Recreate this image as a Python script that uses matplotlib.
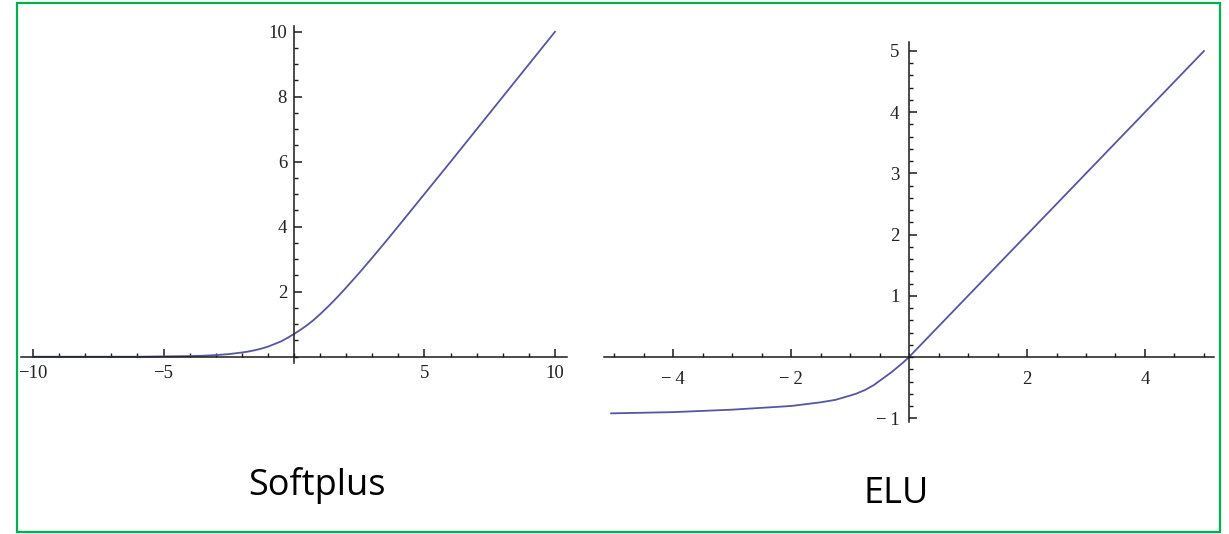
import matplotlib
matplotlib.use("Agg")
import matplotlib.pyplot as plt
from matplotlib.patches import Rectangle
from matplotlib.ticker import MultipleLocator

# values
softplus_x = [-10, -8, -6, -5, -4, -3.5, -3, -2.5, -2, -1.75, -1.5, -1.25, -1, -0.75, -0.5, -0.25, 0,
              0.25, 0.5, 0.75, 1, 1.25, 1.5, 1.75, 2, 2.5, 3, 3.5, 4, 5, 6, 8, 10]
softplus_y = [0.0, 0.0, 0.0, 0.01, 0.02, 0.03, 0.05, 0.08, 0.13, 0.16, 0.2, 0.25, 0.31, 0.39, 0.47, 0.58, 0.7,
              0.83, 0.97, 1.13, 1.31, 1.5, 1.7, 1.91, 2.13, 2.58, 3.05, 3.53, 4.02, 5.01, 6.0, 8.0, 10.0]

elu_x = [-5.05, -4.5, -4, -3.5, -3, -2.5, -2, -1.75, -1.5, -1.25, -1, -0.9, -0.75, -0.6, -0.5, -0.4,
         -0.3, -0.2, -0.1, 0, 5]
elu_y = [-0.92, -0.91, -0.9, -0.88, -0.86, -0.83, -0.8, -0.77, -0.74, -0.7, -0.63, -0.6, -0.54, -0.46,
         -0.39, -0.32, -0.25, -0.17, -0.09, 0, 5]

sp_xticks = [-10, -5, 5, 10]
sp_xlabels = ["\u221210", "\u22125", "5", "10"]
sp_yticks = [2, 4, 6, 8, 10]
sp_ylabels = ["2", "4", "6", "8", "10"]

elu_xticks = [-4, -2, 2, 4]
elu_xlabels = ["\u2212\u20094", "\u2212\u20092", "2", "4"]
elu_yticks = [-1, 1, 2, 3, 4, 5]
elu_ylabels = ["\u2212\u20091", "1", "2", "3", "4", "5"]

titles = ["Softplus", "ELU"]

line_col = "#5656a0"
tick_font = ["Liberation Serif", "DejaVu Serif"]

fig = plt.figure(figsize=(12.29, 5.34), dpi=100)
fig.patch.set_facecolor("white")


def math_axes(ax, xticks, xlabels, yticks, ylabels, xminor, yminor, xpad, ypad):
    # Mathematica-like axes crossing at the origin
    for s in ["top", "right"]:
        ax.spines[s].set_visible(False)
    for s in ["left", "bottom"]:
        ax.spines[s].set_position("zero")
        ax.spines[s].set_linewidth(1.1)
        ax.spines[s].set_color("#1a1a1a")
    ax.set_xticks(xticks)
    ax.set_xticklabels(xlabels, family=tick_font, fontsize=13.5, color="#222222")
    ax.set_yticks(yticks)
    ax.set_yticklabels(ylabels, family=tick_font, fontsize=13.5, color="#222222")
    ax.xaxis.set_minor_locator(MultipleLocator(xminor))
    ax.yaxis.set_minor_locator(MultipleLocator(yminor))
    ax.tick_params(which="major", direction="in", length=5.5, width=1.1, color="#1a1a1a")
    ax.tick_params(which="minor", direction="in", length=3, width=1.0, color="#1a1a1a")
    ax.tick_params(axis="x", which="major", pad=6)
    ax.tick_params(axis="x", which="major", pad=xpad)
    ax.tick_params(axis="y", which="major", pad=ypad)
    ax.set_facecolor("none")


# Softplus
ax1 = fig.add_axes([0.01733, 0.3204, 0.4438, 0.6305])
ax1.plot(softplus_x, softplus_y, color=line_col, lw=1.3)
ax1.set_xlim(-10.45, 10.45)
ax1.set_ylim(-0.19, 10.17)
math_axes(ax1, sp_xticks, sp_xlabels, sp_yticks, sp_ylabels, 1, 0.5, 6, 5)

# ELU
ax2 = fig.add_axes([0.4915, 0.2099, 0.4963, 0.7118])
ax2.plot(elu_x, elu_y, color=line_col, lw=1.3)
ax2.set_xlim(-5.17, 5.17)
ax2.set_ylim(-1.06, 5.15)
math_axes(ax2, elu_xticks, elu_xlabels, elu_yticks, elu_ylabels, 0.5, 0.2, 10, 7)

# titles under each plot
fig.text(0.2575, 0.073, titles[0], ha="center", va="baseline",
         family="Open Sans", fontsize=26, color="black")
fig.text(0.729, 0.058, titles[1], ha="center", va="baseline",
         family="Open Sans", fontsize=26, color="black")

# green frame
fig.patches.append(Rectangle((0.01383, 0.00375), 0.9789, 0.9906, transform=fig.transFigure,
                             fill=False, edgecolor="#00b050", lw=1.6))

fig.savefig("out.png", dpi=100)
